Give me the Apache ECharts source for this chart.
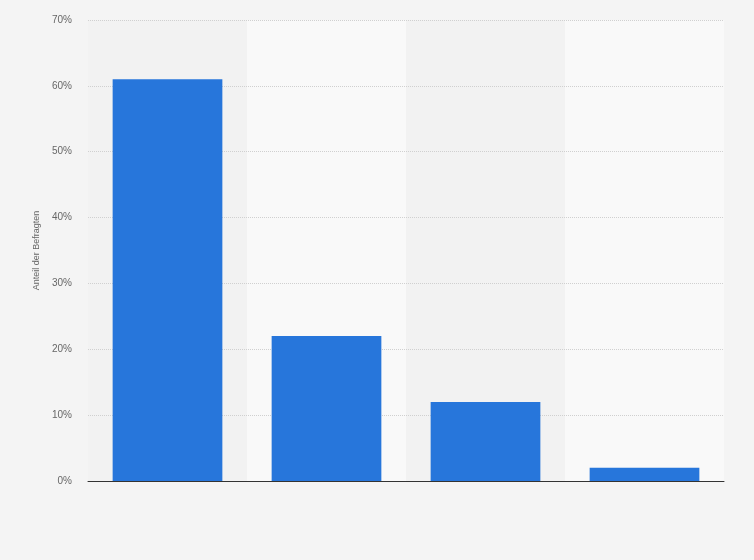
<!DOCTYPE html>
<html>
<head>
<meta charset="utf-8">
<script src="https://cdn.jsdelivr.net/npm/echarts@6/dist/echarts.min.js"></script>
<style>
    html, body { margin: 0; padding: 0; background: #f4f4f4; }
    #chart { width: 754px; height: 560px; }
</style>
</head>
<body>
<div id="chart"></div>
<script>
// categories carry no visible labels in the reference
var categories = ['A', 'B', 'C', 'D'];
var shares = [61, 22, 12, 2];
var yTicks = { min: 0, max: 70, step: 10 };

var chart = echarts.init(document.getElementById('chart'));

chart.setOption({
    backgroundColor: '#f4f4f4',
    animation: false,
    grid: { left: 88, right: 30, top: 20, bottom: 79 },
    xAxis: {
        type: 'category',
        data: categories,
        z: 0,
        axisLine: { lineStyle: { color: '#333', width: 1 } },
        axisTick: { show: false },
        axisLabel: { show: false },
        splitArea: {
            show: true,
            areaStyle: { color: ['#f2f2f2', '#f9f9f9'] }
        }
    },
    yAxis: {
        type: 'value',
        z: 1,
        min: yTicks.min,
        max: yTicks.max,
        interval: yTicks.step,
        name: 'Anteil der Befragten',
        nameLocation: 'middle',
        nameGap: 44,
        nameTextStyle: { color: '#666', fontSize: 9, fontFamily: 'Arial, Liberation Sans' },
        axisLine: { show: false },
        axisTick: { show: false },
        axisLabel: {
            color: '#666',
            fontSize: 10,
            fontFamily: 'Arial, Liberation Sans',
            margin: 16,
            formatter: '{value}%'
        },
        splitLine: {
            showMinLine: false,
            lineStyle: { color: '#d0d0d0', type: 'dotted' }
        }
    },
    series: [{
        type: 'bar',
        z: 2,
        data: shares,
        barCategoryGap: '31%',
        itemStyle: { color: '#2776db' }
    }]
});
</script>
</body>
</html>
